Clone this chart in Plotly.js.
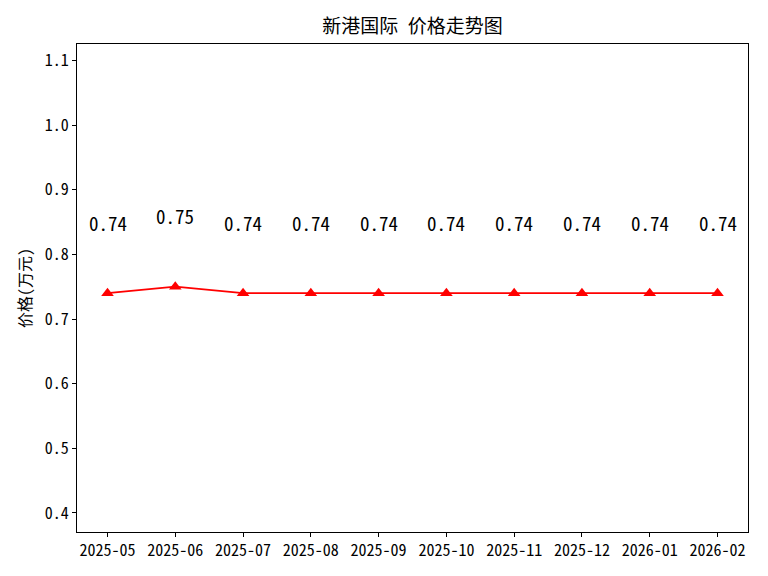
<!DOCTYPE html>
<html>
<head>
<meta charset="utf-8">
<script src="https://cdn.plot.ly/plotly-3.0.1.min.js"></script>
<style>html,body{margin:0;padding:0;background:#fff;}#chart{width:768px;height:576px;}</style>
</head>
<body>
<div id="chart"></div>
<script>
const months = ["2025-05","2025-06","2025-07","2025-08","2025-09","2025-10","2025-11","2025-12","2026-01","2026-02"];
const prices = [0.74, 0.75, 0.74, 0.74, 0.74, 0.74, 0.74, 0.74, 0.74, 0.74];
const yTicks = [0.4, 0.5, 0.6, 0.7, 0.8, 0.9, 1.0, 1.1];
const titleText = "新港国际 价格走势图";
const yTitle = "价格(万元)";

const font = "'Noto Sans Mono CJK SC', 'Noto Sans CJK SC', 'DejaVu Sans Mono', monospace";
const xIdx = months.map((m, i) => i);

const trace = {
  x: xIdx,
  y: prices,
  mode: "lines+markers",
  line: {color: "red", width: 1.8},
  marker: {symbol: "triangle-up", size: 11, color: "red"},
  hoverinfo: "skip"
};

const annotations = prices.map((v, i) => ({
  x: i, y: v + 0.11, xref: "x", yref: "y",
  text: v.toFixed(2), showarrow: false,
  font: {family: font, size: 19, color: "#000"},
  xanchor: "center", yanchor: "middle"
}));

const layout = {
  width: 768, height: 576,
  margin: {l: 77, r: 20, t: 44, b: 44},
  paper_bgcolor: "#fff", plot_bgcolor: "#fff",
  showlegend: false,
  title: {text: titleText, font: {family: font, size: 19, color: "#000"}, xref: "paper", x: 0.5, xanchor: "center", y: 0.955, yanchor: "middle"},
  xaxis: {
    range: [-0.45, 9.45],
    tickmode: "array", tickvals: xIdx, ticktext: months,
    ticks: "outside", ticklen: 4, tickcolor: "#000", tickwidth: 1,
    showgrid: false, zeroline: false,
    showline: true, linecolor: "#000", linewidth: 1, mirror: true,
    tickfont: {family: font, size: 16, color: "#000"}
  },
  yaxis: {
    range: [0.3705, 1.1255],
    tickmode: "array", tickvals: yTicks, ticktext: yTicks.map(v => v.toFixed(1)),
    ticks: "outside", ticklen: 4, tickcolor: "#000", tickwidth: 1,
    showgrid: false, zeroline: false,
    showline: true, linecolor: "#000", linewidth: 1, mirror: true,
    tickfont: {family: font, size: 16, color: "#000"},
    title: {text: yTitle, font: {family: font, size: 16, color: "#000"}, standoff: 9}
  },
  annotations: annotations
};

Plotly.newPlot("chart", [trace], layout, {staticPlot: true, displayModeBar: false});
</script>
</body>
</html>
